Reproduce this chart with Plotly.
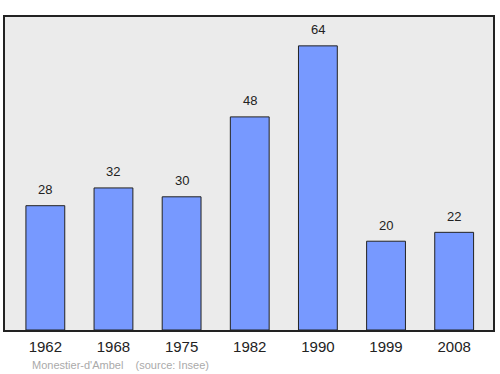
import plotly.graph_objects as go

years = ["1962", "1968", "1975", "1982", "1990", "1999", "2008"]
population = [28, 32, 30, 48, 64, 20, 22]
positions = list(range(len(years)))

FONT = "Liberation Sans, Arial, sans-serif"

fig = go.Figure()
fig.add_trace(go.Bar(
    x=positions, y=population, width=0.57,
    marker=dict(color="#7799ff", line=dict(color="#222222", width=1)),
))
for p, v in zip(positions, population):
    fig.add_annotation(x=p, y=v, text=str(v), showarrow=False, yanchor="middle",
                       yshift=16, font=dict(family=FONT, size=13, color="#222222"))
fig.update_layout(
    width=500, height=374,
    margin=dict(l=5, r=5, t=17, b=44),
    paper_bgcolor="white", plot_bgcolor="#ebebeb",
    showlegend=False,
    xaxis=dict(range=[-0.592, 6.57], tickvals=positions, ticktext=years,
               showgrid=False, zeroline=False, ticks="", showline=True, linecolor="#222222",
               linewidth=1.5, mirror=True, ticklabelstandoff=2,
               tickfont=dict(family=FONT, size=15, color="#222222")),
    yaxis=dict(range=[0, 70.5], showticklabels=False, showgrid=False, zeroline=False,
               ticks="", showline=True, linecolor="#222222", linewidth=1.5, mirror=True),
    font=dict(family=FONT),
)
fig.add_annotation(
    text="Monestier-d'Ambel    (source: Insee)", xref="paper", yref="paper",
    x=(30 - 5) / 490, y=-(365 - 330) / 313, xanchor="left", yanchor="middle",
    showarrow=False, font=dict(size=11, color="#aaaaaa", family=FONT),
)
fig.write_html("out.html")
